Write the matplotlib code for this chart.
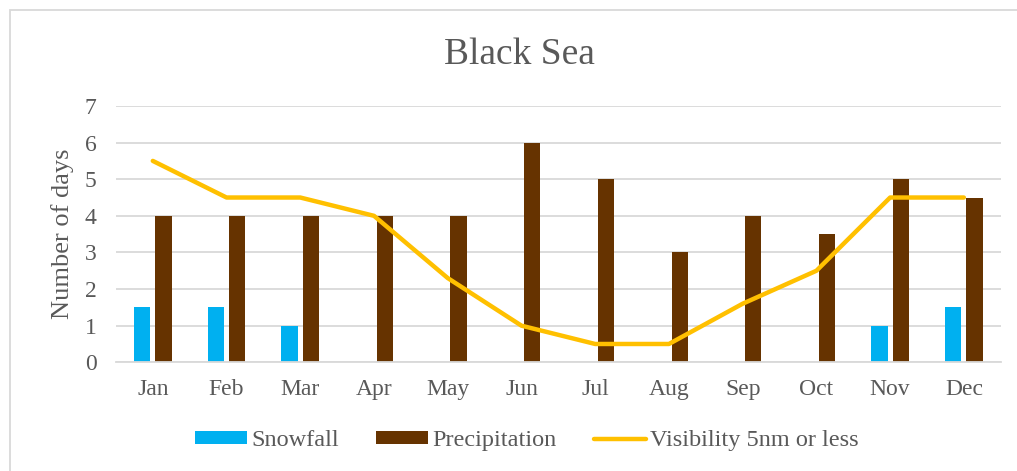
import numpy as np
import matplotlib
matplotlib.use('Agg')
import matplotlib.pyplot as plt
from matplotlib.patches import Rectangle

# 数据
months = ['Jan', 'Feb', 'Mar', 'Apr', 'May', 'Jun', 'Jul', 'Aug', 'Sep', 'Oct', 'Nov', 'Dec']
snowfall = [1.5, 1.5, 1, 0, 0, 0, 0, 0, 0, 0, 1, 1.5]
precipitation = [4, 4, 4, 4, 4, 6, 5, 3, 4, 3.5, 5, 4.5]
visibility = [5.5, 4.5, 4.5, 4, 2.3, 1, 0.5, 0.5, 1.6, 2.5, 4.5, 4.5]

plt.rcParams['font.family'] = ['Liberation Serif', 'DejaVu Serif']
text_color = '#595959'
grid_color = '#D9D9D9'

fig = plt.figure(figsize=(10.17, 4.71), dpi=100)
ax = fig.add_axes([0.114, 0.2308, 0.870, 0.5442])

x = np.arange(len(months))
w = 0.22
b1 = ax.bar(x - 0.145, snowfall, width=w, color='#00B0F0', label='Snowfall', zorder=2)
b2 = ax.bar(x + 0.145, precipitation, width=w, color='#663300', label='Precipitation', zorder=2)
l1, = ax.plot(x, visibility, color='#FFC000', lw=3.2, label='Visibility 5nm or less',
              solid_joinstyle='round', solid_capstyle='round', zorder=3)

ax.set_xlim(-0.5, len(months) - 0.5)
ax.set_ylim(0, 7)
ax.set_yticks(range(0, 8))
ax.set_xticks(x)
ax.set_xticklabels(months)
ax.grid(axis='y', color=grid_color, lw=1.3, zorder=0)
ax.tick_params(axis='both', length=0, labelsize=17, colors=text_color)
ax.tick_params(axis='y', pad=14)
ax.tick_params(axis='x', pad=12)
for s in ['top', 'right', 'left']:
    ax.spines[s].set_visible(False)
ax.spines['bottom'].set_color(grid_color)
ax.spines['bottom'].set_linewidth(1.3)

ax.set_ylabel('Number of days', fontsize=19, color=text_color, labelpad=8)
fig.text(0.511, 0.883, 'Black Sea', ha='center', va='center', fontsize=27, color=text_color)

fig.legend(handles=[b1, b2, l1], loc='center', bbox_to_anchor=(0.518, 0.064), ncol=3,
           frameon=False, fontsize=17.5, labelcolor=text_color, handlelength=2.15,
           handletextpad=0.15, columnspacing=1.55, handleheight=0.45)

# 外框
fig.add_artist(Rectangle((10 / 1017, -0.2), 1.2, 1.2 - 10 / 471, transform=fig.transFigure,
                         fill=False, edgecolor=grid_color, lw=1.3))

fig.savefig('out.png', dpi=100)
